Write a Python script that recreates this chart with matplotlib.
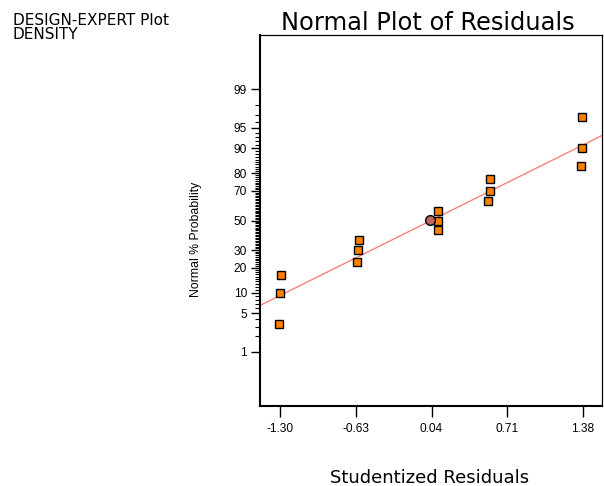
import numpy as np
import matplotlib
matplotlib.use('Agg')
import matplotlib.pyplot as plt
from statistics import NormalDist

# studentized residuals (sorted) and their normal % probability
residuals = [-1.31, -1.30, -1.29, -0.62, -0.61, -0.60, 0.10, 0.10, 0.10,
             0.54, 0.56, 0.56, 1.36, 1.37, 1.37]
probs = [3.33, 10.0, 16.67, 23.33, 30.0, 36.67, 43.33, 50.0, 56.67,
         63.33, 70.0, 76.67, 83.33, 90.0, 96.67]

# highlighted point
mark_x = [0.03]
mark_prob = [50.7]

# reference line end points
line_x = [-1.48, 1.55]
line_prob = [6.55, 93.45]

x_ticks = [-1.30, -0.63, 0.04, 0.71, 1.38]
y_major = [1, 5, 10, 20, 30, 50, 70, 80, 90, 95, 99]
y_minor = [p for p in range(1, 100) if p not in y_major]

nd = NormalDist()


def z(p):
    return [nd.inv_cdf(v / 100.0) for v in p]


fig = plt.figure(figsize=(6.04, 4.86), dpi=100)
ax = fig.add_axes([260 / 604, 1 - 406 / 486, 342 / 604, 371.5 / 486])

ax.plot(line_x, z(line_prob), color='#ff7f7f', lw=1.0, zorder=2)
ax.plot(residuals, z(probs), ls='none', marker='s', ms=6, mfc='#ff8000',
        mec='black', mew=1.0, zorder=3)
ax.plot(mark_x, z(mark_prob), ls='none', marker='o', ms=7, mfc='#c06464',
        mec='black', mew=1.0, zorder=4)

ax.set_xlim(-1.477, 1.548)
ax.set_ylim(-3.29, 3.30)

tick_font = {'family': 'Liberation Sans', 'size': 8.6}
ax.set_xticks(x_ticks)
ax.set_xticklabels(['%.2f' % v for v in x_ticks], fontdict=tick_font)
ax.set_yticks(z(y_major))
ax.set_yticklabels([str(v) for v in y_major], fontdict=tick_font)
ax.set_yticks(z(y_minor), minor=True)

ax.tick_params(axis='x', direction='out', length=7.7, width=1.0, pad=4.5, colors='black')
ax.tick_params(axis='y', which='major', direction='out', length=6.5, width=1.0, pad=3)
ax.tick_params(axis='y', which='minor', direction='out', length=3.6, width=0.8)

for side in ['left', 'bottom']:
    ax.spines[side].set_linewidth(1.5)
for side in ['top', 'right']:
    ax.spines[side].set_linewidth(0.9)

fig.text(13 / 604, 1 - 25 / 486, 'DESIGN-EXPERT Plot', fontsize=11, family='DejaVu Sans', va='baseline')
fig.text(13 / 604, 1 - 39 / 486, 'DENSITY', fontsize=11, family='DejaVu Sans', va='baseline')
fig.text(428 / 604, 1 - 30 / 486, 'Normal Plot of Residuals', fontsize=17.4,
         family='DejaVu Sans', ha='center', va='baseline')
fig.text(430 / 604, 1 - 483 / 486, 'Studentized Residuals', fontsize=13,
         family='DejaVu Sans', ha='center', va='baseline')
fig.text(196 / 604, 1 - 239 / 486, 'Normal % Probability', fontsize=8.8, rotation=90,
         family='Liberation Sans', ha='center', va='center')

fig.savefig('out.png', dpi=100)
